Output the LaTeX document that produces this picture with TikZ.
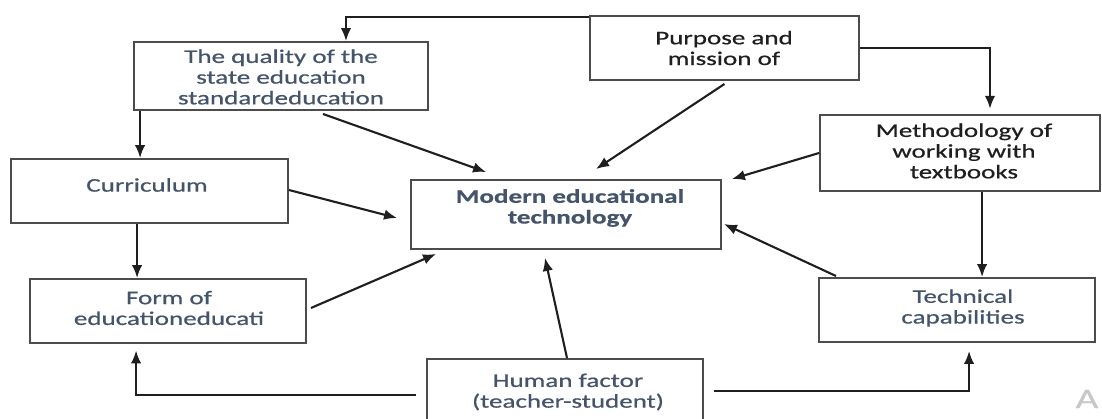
\documentclass[tikz,border=0pt]{standalone}
\usepackage{fontspec}
\setmainfont[FakeStretch=1.4,FakeBold=0.6]{Carlito}
\usepackage{xcolor}
\usepackage{tikz}
\usetikzlibrary{arrows.meta,calc}

\definecolor{slate}{HTML}{44546A}
\definecolor{ink}{HTML}{1F1F1F}

\begin{document}
\begin{tikzpicture}[x=0.02cm, y=-0.02cm]
    \tikzstyle{box} = [rectangle, draw=black!70, line width=1.1pt, fill=white, inner sep=0pt]
    \tikzstyle{label} = [align=center, inner sep=0pt, font=\fontsize{11}{11.8}\selectfont]
    \tikzstyle{conn} = [draw=ink, line width=1.2pt, -{Latex[length=2.6mm,width=2.1mm]}]

    \useasboundingbox (0,0) rectangle (1102,419);

    % Boxes
    \node[box, minimum width=5.88cm, minimum height=1.36cm] (qualBox) at (281,76) {};
    \node[box, minimum width=5.38cm, minimum height=1.28cm] (purpBox) at (724.5,48) {};
    \node[box, minimum width=6.2cm,  minimum height=1.38cm] (modBox)  at (566,214.5) {};
    \node[box, minimum width=5.6cm,  minimum height=1.52cm] (methBox) at (960,153) {};
    \node[box, minimum width=5.54cm, minimum height=1.28cm] (currBox) at (149.5,191) {};
    \node[box, minimum width=5.52cm, minimum height=1.28cm] (formBox) at (168,311) {};
    \node[box, minimum width=5.52cm, minimum height=1.28cm] (techBox) at (957,310) {};
    \node[box, minimum width=5.52cm, minimum height=1.62cm] (humBox)  at (565,399.5) {};

    % Texts
    \node[label, text=slate] (qualTxt) at (281,77) {The quality of the\\state education\\standardeducation};
    \node[label, text=ink]   (purpTxt) at (724,48) {Purpose and\\mission of};
    \node[label, text=slate, font=\fontsize{11}{11.8}\selectfont\bfseries] (modTxt) at (570,208) {Modern educational\\technology};
    \node[label, text=ink]   (methTxt) at (964,151) {Methodology of\\working with\\textbooks};
    \node[label, text=slate] (currTxt) at (147,185) {Curriculum};
    \node[label, text=slate] (formTxt) at (169,308) {Form of\\educationeducati};
    \node[label, text=slate] (techTxt) at (963,308) {Technical\\capabilities};
    \node[label, text=slate] (humTxt)  at (568,392) {Human factor\\(teacher-student)};
    \node[text=black!22, font=\fontsize{16}{16}\selectfont, inner sep=0pt] (wmark) at (1087,399) {A};

    % Elbow connectors
    \draw[conn] ([yshift=-1pt]purpBox.north west) -| ([xshift=1.3cm]qualBox.north);
    \draw[conn, shorten >=3pt] (purpBox.east) -| ([xshift=0.6cm]methBox.north);
    \path (qualBox.south west) ++(7,0) coordinate (q1);
    \draw[conn] (q1) -- (q1 |- currBox.north);
    \path (currBox.south west) ++(127,0) coordinate (c1);
    \draw[conn] (c1) -- (c1 |- formBox.north);
    \path (methBox.south west) ++(163,0) coordinate (m1);
    \draw[conn] (m1) -- (m1 |- techBox.north);
    \path (humBox.north west) ++(-10,37) coordinate (h1);
    \path (formBox.south west) ++(107,0) coordinate (f1);
    \draw[conn, shorten >=0.13cm] (h1) -| (f1);
    \path (humBox.north east) ++(10,33) coordinate (h2);
    \path (techBox.south west) ++(151,0) coordinate (t1);
    \draw[conn, shorten >=0.16cm] (h2) -| (t1);

    % Arrows into the centre
    \draw[conn] ($(qualBox.south)+(42,3)$) -- ($(modBox.north west)+(76,-7)$);
    \draw[conn] ($(purpBox.south)+(0,3)$) -- ($(modBox.north)+(30,-10)$);
    \draw[conn] ($(currBox.east)+(0,-1)$) -- ($(modBox.west)+(-13,3.5)$);
    \draw[conn] ($(formBox.east)+(4,-3)$) -- ($(modBox.south west)+(26,4)$);
    \draw[conn] ($(humBox.north)+(2,0)$) -- ($(modBox.south)+(-21,8)$);
    \draw[conn] ($(techBox.north west)+(18,-1)$) -- ($(modBox.east)+(2,9.5)$);
    \draw[conn] (methBox.west) -- ($(modBox.north east)+(10,0)$);

\end{tikzpicture}
\end{document}
